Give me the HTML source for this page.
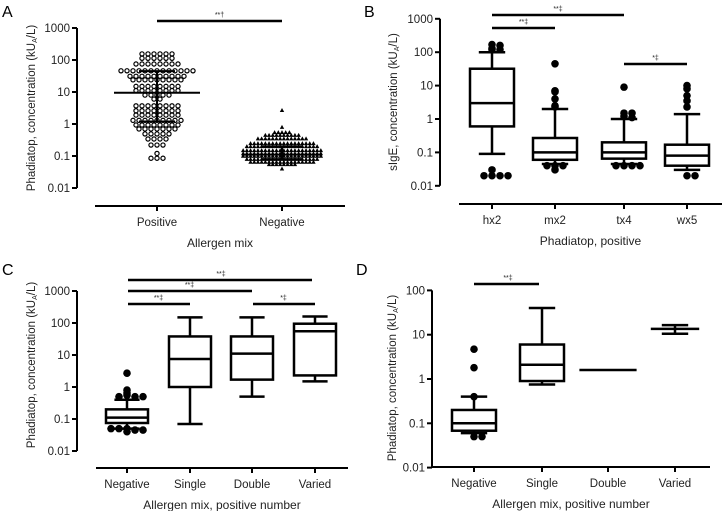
<!DOCTYPE html>
<html><head><meta charset="utf-8"><style>
html,body{margin:0;padding:0;background:#fff;}
svg{display:block;font-family:"Liberation Sans",sans-serif;}
</style></head><body>
<svg id="fig" width="724" height="511" viewBox="0 0 724 511"></svg>
<script>
// ---- Panel A data (beeswarm rows: level value and count) ----
const aCategories = ["Positive","Negative"];
const aPosLevels = [155,113,75,46,31,24,15,11,8,6,3.7,2.6,1.9,1.3,0.93,0.7,0.49,0.34,0.22,0.12,0.085];
const aPosCounts = [6,6,8,13,10,9,8,8,5,2,8,8,8,9,8,7,5,4,3,1,3];
const aNegLevels = [2.7,0.8,0.55,0.45,0.35,0.25,0.2,0.15,0.12,0.1,0.08,0.065,0.055,0.04];
const aNegCounts = [1,1,5,10,14,18,20,22,22,22,20,18,8,1];
const aMedians = [9.5,0.11];
const aQ1 = [1.2,0.08];
const aQ3 = [45,0.2];
// ---- Panel B ----
const bCategories = ["hx2","mx2","tx4","wx5"];
const bQ1 = [0.6,0.06,0.065,0.04];
const bMed = [3,0.1,0.1,0.08];
const bQ3 = [32,0.27,0.2,0.17];
const bLo = [0.09,0.045,0.045,0.03];
const bHi = [100,2,1.0,1.4];
const bOutliers = [[170,130,120,160,120,0.03,0.02,0.02,0.02,0.02],[45,7,6.5,4,2.5,2.3,0.04,0.03,0.04,0.04],[9,1.5,1.5,1.2,1.1,0.04,0.04,0.04,0.04],[10,8,5,3.5,2.3,0.02,0.02]];
// ---- Panel C ----
const cCategories = ["Negative","Single","Double","Varied"];
const cQ1 = [0.075,1,1.7,2.3];
const cMed = [0.11,7.5,11,55];
const cQ3 = [0.2,38,38,95];
const cLo = [0.05,0.07,0.5,1.5];
const cHi = [0.4,150,150,160];
const cOutliers = [[2.7,0.8,0.55,0.5,0.5,0.65,0.5,0.05,0.045,0.04,0.05,0.045,0.05],[],[],[]];
// ---- Panel D ----
const dCategories = ["Negative","Single","Double","Varied"];
const dQ1 = [0.068,0.9,1.6,13.5];
const dMed = [0.1,2.1,1.6,13.5];
const dQ3 = [0.2,6,1.6,13.5];
const dLo = [0.06,0.75,1.6,10.5];
const dHi = [0.4,40,1.6,16.5];
const dOutliers = [[4.7,1.8,0.4,0.05,0.05],[],[],[]];
const yTicks = [1000,100,10,1,0.1,0.01];
const yTickLabels = ["1000","100","10","1","0.1","0.01"];
const dTicks = [100,10,1,0.1,0.01];
const dTickLabels = ["100","10","1","0.1","0.01"];

const NS="http://www.w3.org/2000/svg";
const svg=document.getElementById('fig');
function mk(tag,attrs,parent,name,txt){
  const e=document.createElementNS(NS,tag);
  for(const k in attrs)e.setAttribute(k,attrs[k]);
  
  
  if(txt!==undefined)e.textContent=txt;
  (parent||svg).appendChild(e);return e;
}
function line(x1,y1,x2,y2,w,name,g){return mk('line',{x1,y1,x2,y2,stroke:'#000','stroke-width':w},g,name);}
function text(x,y,t,size,anchor,name,g,extra){const a={x,y,'font-size':size,'text-anchor':anchor||'middle',fill:'#222'};Object.assign(a,extra||{});return mk('text',a,g,name,t);}

function panel(cfg){
  const g=mk('g',{},svg,'panel-'+cfg.id);
  const yS=v=>cfg.y1-cfg.dec*Math.log10(v);
  text(cfg.lx,cfg.ly,cfg.id,16,'start','panel-label-'+cfg.id,g,{fill:'#000'});
  line(cfg.ax,yS(cfg.ticks[0]),cfg.ax,yS(cfg.ticks[cfg.ticks.length-1]),2,'y-axis',g);
  cfg.ticks.forEach((t,i)=>{
    line(cfg.ax-5,yS(t),cfg.ax,yS(t),2,'y-tick',g);
    text(cfg.ax-7,yS(t)+4,cfg.tickLabels[i],11.5,'end','y-tick-label',g);
  });
  const yt=text(0,0,'',11.5,'middle','y-axis-title',g);
  yt.setAttribute('transform',`translate(${cfg.tx},${cfg.tyc}) rotate(-90)`);
  yt.innerHTML=cfg.ytitle;
  line(cfg.xa0,cfg.xay,cfg.xa1,cfg.xay,2,'x-axis',g);
  cfg.cats.forEach((c,i)=>{
    const x=cfg.cx[i];
    line(x,cfg.xay,x,cfg.xay+5,2,'x-tick',g);
    text(x,cfg.xay+20,c,11.5,'middle','x-tick-label',g);
  });
  text((cfg.xa0+cfg.xa1)/2,cfg.xay+41,cfg.xtitle,12,'middle','x-axis-title',g);
  cfg.sig.forEach(s=>{
    line(cfg.cx[s[0]]+(s[3]||0),s[2],cfg.cx[s[1]]+(s[4]||0),s[2],2.5,'significance-bar',g);
    text((cfg.cx[s[0]]+cfg.cx[s[1]])/2,s[2]-4,s[5],7,'middle','significance-label',g);
  });
  if(cfg.q1){
    cfg.q1.forEach((q,i)=>{
      const x=cfg.cx[i],w=cfg.bw/2,cw=cfg.bw*0.3;
      if(cfg.special && cfg.special[i]==='line'){line(x-cfg.bw*0.65,yS(cfg.med[i]),x+cfg.bw*0.65,yS(cfg.med[i]),2.5,'median-line',g);return;}
      if(cfg.special && cfg.special[i]==='range'){
        line(x,yS(cfg.hi[i]),x,yS(cfg.lo[i]),2.5,'whisker',g);
        line(x-cw,yS(cfg.hi[i]),x+cw,yS(cfg.hi[i]),2.5,'whisker-cap',g);
        line(x-cw,yS(cfg.lo[i]),x+cw,yS(cfg.lo[i]),2.5,'whisker-cap',g);
        line(x-cfg.bw*0.55,yS(cfg.med[i]),x+cfg.bw*0.55,yS(cfg.med[i]),2.5,'median-line',g);return;}
      line(x,yS(cfg.hi[i]),x,yS(cfg.q3[i]),2.5,'whisker',g);
      line(x,yS(cfg.q1[i]),x,yS(cfg.lo[i]),2.5,'whisker',g);
      line(x-cw,yS(cfg.hi[i]),x+cw,yS(cfg.hi[i]),2.5,'whisker-cap',g);
      line(x-cw,yS(cfg.lo[i]),x+cw,yS(cfg.lo[i]),2.5,'whisker-cap',g);
      mk('rect',{x:x-w,y:yS(cfg.q3[i]),width:cfg.bw,height:yS(cfg.q1[i])-yS(cfg.q3[i]),fill:'#fff',stroke:'#000','stroke-width':2.5},g,'box-'+cfg.cats[i].toLowerCase());
      line(x-w,yS(cfg.med[i]),x+w,yS(cfg.med[i]),2.5,'median-line',g);
      const used={};
      cfg.out[i].forEach(v=>{
        const k=Math.round(yS(v)/3);used[k]=(used[k]||0)+1;const n=used[k]-1;
        const off=(n%2?1:-1)*Math.ceil(n/2)*8;
        mk('circle',{cx:x+off,cy:yS(v),r:3.8,fill:'#000'},g,'outlier-point');
      });
    });
  }
  return {g,yS};
}

const A=panel({id:'A',lx:2,ly:17,y1:124,dec:32,ax:77,ticks:yTicks,tickLabels:yTickLabels,tx:35,tyc:108,
  ytitle:'Phadiatop, concentration (kU<tspan font-size="7" dy="2">A</tspan><tspan dy="-2">/L)</tspan>',
  xa0:95,xa1:345,xay:206,cats:aCategories,cx:[157,282],xtitle:'Allergen mix',
  sig:[[0,1,21,0,0,'**†']]});
function swarm(levels,counts,cx,shape,name,sp){
  levels.forEach((v,i)=>{
    const n=counts[i],y=A.yS(v);
    for(let j=0;j<n;j++){
      const x=cx+(j-(n-1)/2)*sp;
      if(shape==='c')mk('circle',{cx:x,cy:y,r:2.1,fill:'#fff',stroke:'#000','stroke-width':1.2},A.g,name);
      else mk('path',{d:`M${x} ${y-2.2}L${x+2.2} ${y+1.8}L${x-2.2} ${y+1.8}Z`,fill:'#000'},A.g,name);
    }
  });
}
swarm(aPosLevels,aPosCounts,157,'c','positive-point',6);
swarm(aNegLevels,aNegCounts,282,'t','negative-point',3.7);
[0,1].forEach(i=>{
  const x=[157,282][i],mw=[43,40][i],qw=[18,20][i];
  line(x-mw,A.yS(aMedians[i]),x+mw,A.yS(aMedians[i]),2,'median-line',A.g);
  line(x-qw,A.yS(aQ1[i]),x+qw,A.yS(aQ1[i]),2,'quartile-line',A.g);
  line(x-qw,A.yS(aQ3[i]),x+qw,A.yS(aQ3[i]),2,'quartile-line',A.g);
  line(x,A.yS(aQ1[i]),x,A.yS(aQ3[i]),2,'iqr-line',A.g);
});

panel({id:'B',lx:364,ly:17,y1:119,dec:33.4,ax:440,ticks:yTicks,tickLabels:yTickLabels,tx:397,tyc:102,
  ytitle:'sIgE, concentration (kU<tspan font-size="7" dy="2">A</tspan><tspan dy="-2">/L)</tspan>',
  xa0:459,xa1:722,xay:204,cats:bCategories,cx:[492,555,624,687],xtitle:'Phadiatop, positive',
  sig:[[0,2,15,0,0,'**‡'],[0,1,28,0,0,'**‡'],[2,3,64,0,0,'*‡']],
  q1:bQ1,med:bMed,q3:bQ3,lo:bLo,hi:bHi,out:bOutliers,bw:44});

panel({id:'C',lx:2,ly:275,y1:387,dec:32,ax:77,ticks:yTicks,tickLabels:yTickLabels,tx:35,tyc:365,
  ytitle:'Phadiatop, concentration (kU<tspan font-size="7" dy="2">A</tspan><tspan dy="-2">/L)</tspan>',
  xa0:96,xa1:348,xay:468,cats:cCategories,cx:[127,190,252,315],xtitle:'Allergen mix, positive number',
  sig:[[0,3,280,1,-3,'**‡'],[0,2,291,1,0,'**‡'],[0,1,304,1,0,'**‡'],[2,3,304,1,0,'*‡']],
  q1:cQ1,med:cMed,q3:cQ3,lo:cLo,hi:cHi,out:cOutliers,bw:42});

panel({id:'D',lx:356,ly:275,y1:379,dec:44.3,ax:432,ticks:dTicks,tickLabels:dTickLabels,tx:396,tyc:378,
  ytitle:'Phadiatop, concentration (kU<tspan font-size="7" dy="2">A</tspan><tspan dy="-2">/L)</tspan>',
  xa0:432,xa1:710,xay:467,cats:dCategories,cx:[474,542,608,675],xtitle:'Allergen mix, positive number',
  sig:[[0,1,284,0,-3,'**‡']],
  q1:dQ1,med:dMed,q3:dQ3,lo:dLo,hi:dHi,out:dOutliers,bw:44,special:[null,null,'line','range']});
</script>
</body></html>
